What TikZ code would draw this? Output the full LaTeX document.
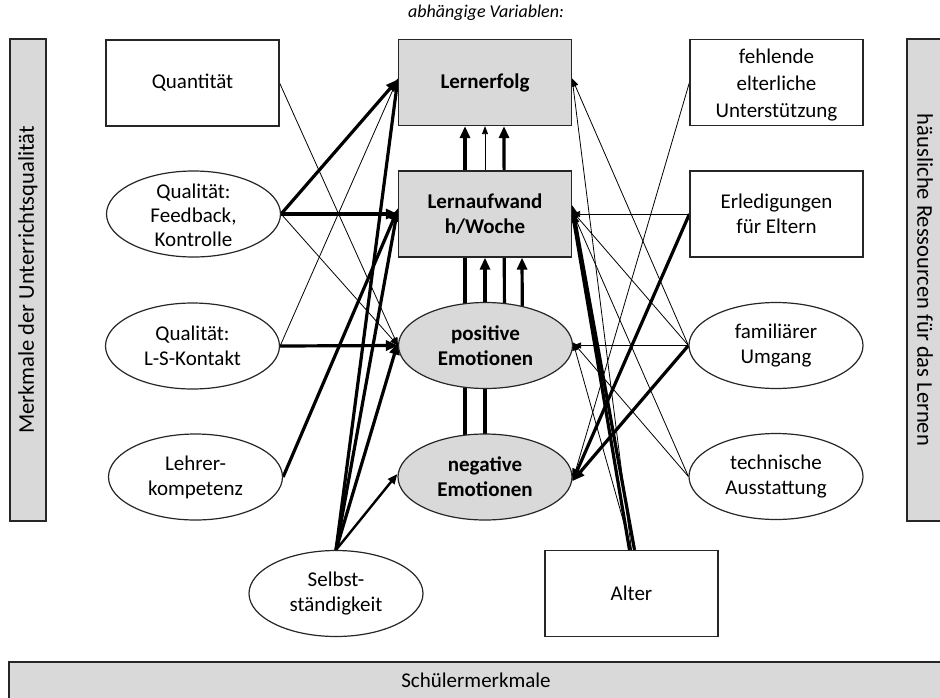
\documentclass[tikz,border=0pt]{standalone}
\usepackage{fontspec}
\setmainfont{Carlito}
\usetikzlibrary{shapes.geometric,arrows.meta}
\pgfdeclarelayer{background}
\pgfsetlayers{background,main}
\definecolor{boxgray}{HTML}{D9D9D9}
\definecolor{edgegray}{HTML}{262626}
\begin{document}
\begin{tikzpicture}[x=1pt,y=-1pt,
  txt/.style={font=\fontsize{21}{25}\selectfont, align=center, inner sep=0pt},
  rbox/.style={txt, draw=edgegray, line width=1.2pt, fill=white, minimum width=173pt, minimum height=86pt},
  ebox/.style={txt, draw=edgegray, line width=1.2pt, fill=white, ellipse, minimum width=174pt, minimum height=86pt},
  dep/.style={fill=boxgray, font=\fontsize{21}{25}\selectfont\bfseries},
  bar/.style={draw=edgegray, line width=1.2pt, fill=boxgray},
  bartxt/.style={txt, font=\fontsize{22.5}{26}\selectfont},
  thk/.style={line width=3.2pt, -{Triangle[length=12pt,width=10pt]}},
  mid/.style={line width=2.4pt, -{Triangle[length=10pt,width=8pt]}},
  thn/.style={line width=0.8pt, -{Triangle[length=8pt,width=6pt]}},
]
\useasboundingbox (0,0) rectangle (940,697);

% bars
\node[bar, minimum width=36pt, minimum height=482pt, inner sep=0pt] (lbar) at (28,280) {};
\node[bartxt, rotate=90] (lbarT) at (lbar) {Merkmale der Unterrichtsqualität};
\node[bar, minimum width=36pt, minimum height=482pt, inner sep=0pt] (rbar) at (925,280) {};
\node[bartxt, rotate=-90] (rbarT) at (rbar) {häusliche Ressourcen für das Lernen};
\node[bar, minimum width=934pt, minimum height=44pt, inner sep=0pt] (bbar) at (476,684) {};
\node[txt] (bbarT) at (476,680) {Schülermerkmale};

\node[txt, font=\fontsize{18}{22}\selectfont\itshape] (title) at (486,13) {abhängige Variablen:};

% left column
\node[rbox] (quant) at (192.5,83) {Quantität};
\node[ebox] (feed) at (193.5,214) {};
\node[txt, font=\fontsize{21}{24}\selectfont] (feedT) at (193.5,215) {Qualität:\\Feedback,\\Kontrolle};
\node[ebox] (lsk) at (192.5,346) {Qualität:\\L-S-Kontakt};
\node[ebox] (lehrer) at (195.5,477) {Lehrer-\\kompetenz};

% center column
\node[rbox, dep] (erfolg) at (485,82.5) {Lernerfolg};
\node[rbox, dep] (aufwand) at (485,214) {Lernaufwand\\h/Woche};
\node[ebox, dep] (posE) at (485.5,345.5) {positive\\Emotionen};
\node[ebox, dep] (negE) at (485,477) {negative\\Emotionen};

% right column
\node[rbox] (fehl) at (776.5,82.5) {};
\node[txt, font=\fontsize{21}{27}\selectfont] (fehlT) at (776.5,85) {fehlende\\elterliche\\Unterstützung};
\node[rbox] (erled) at (776.5,214) {Erledigungen\\für Eltern};
\node[ebox] (famil) at (776,345.5) {familiärer\\Umgang};
\node[ebox] (tech) at (776,476.5) {technische\\Ausstattung};

% bottom
\node[ebox] (selbst) at (336,593.5) {Selbst-\\ständigkeit};
\node[rbox] (alter) at (631.5,593.5) {Alter};

\begin{pgfonlayer}{background}
% verticals in the centre
\draw[thk] ([xshift=-20pt]negE.center) -- ([xshift=-20pt]erfolg.south);
\draw[thk] (negE.center) -- (aufwand.south);
\draw[thk] ([xshift=19pt]posE.center) -- ([xshift=19pt]erfolg.south);
\draw[thk] ([xshift=37pt]posE.center) -- ([xshift=37pt]aufwand.south);
\draw[thn] (aufwand.center) -- (erfolg.south);

% left inputs
\draw[thn] (quant.east) -- (posE.west);
\draw[thk] (feed.east) -- ([yshift=3pt]erfolg.west);
\draw[thk] (feed.east) -- (aufwand.west);
\draw[thn] (feed.east) -- (posE.west);
\draw[thn] (lsk.east) -- ([yshift=4pt]erfolg.west);
\draw[thk] (lsk.east) -- (posE.west);
\draw[thk] (lehrer.east) -- ([yshift=5pt]aufwand.west);
\draw[thk] (selbst.north) -- ([yshift=4pt]erfolg.west);
\draw[thk] (selbst.north) -- ([yshift=6pt]aufwand.west);
\draw[thk] (selbst.north) -- ([yshift=3pt]posE.west);
\draw[mid] (selbst.north) -- ([yshift=3pt]negE.west);

% right inputs
\draw[thn] (fehl.west) -- ([yshift=-4pt]negE.east);
\draw[thn] (erled.west) -- (aufwand.east);
\draw[thk] (erled.west) -- ([yshift=-4pt]negE.east);
\draw[thn] (famil.west) -- ([yshift=4pt]erfolg.east);
\draw[thn] (famil.west) -- ([yshift=3pt]aufwand.east);
\draw[thn] (famil.west) -- (posE.east);
\draw[thk] (famil.west) -- ([yshift=-4pt]negE.east);
\draw[thn] (tech.west) -- ([yshift=3pt]aufwand.east);
\draw[thn] (tech.west) -- ([yshift=3pt]posE.east);
\draw[thn] (alter.north) -- ([yshift=4pt]erfolg.east);
\draw[thk] ([xshift=-2pt]alter.north) -- ([yshift=3pt]aufwand.east);
\draw[thk] ([xshift=3pt]alter.north) -- ([yshift=9pt]aufwand.east);
\draw[thn] (alter.north) -- ([yshift=3pt]posE.east);
\end{pgfonlayer}
\end{tikzpicture}
\end{document}
